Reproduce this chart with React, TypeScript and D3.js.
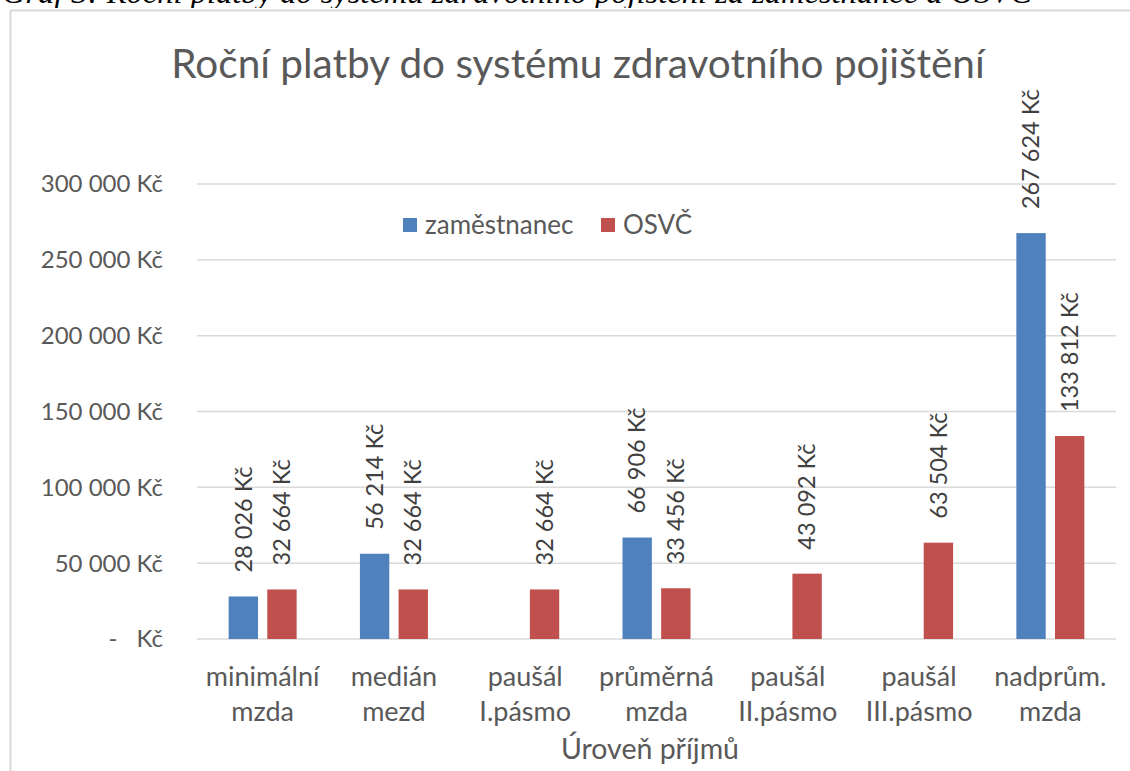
import React from 'react';
import * as d3 from 'd3';

const W = 1130;
const H = 771;

const categories = [
  ['minimální', 'mzda'],
  ['medián', 'mezd'],
  ['paušál', 'I.pásmo'],
  ['průměrná', 'mzda'],
  ['paušál', 'II.pásmo'],
  ['paušál', 'III.pásmo'],
  ['nadprům.', 'mzda'],
];
const series = ['zaměstnanec', 'OSVČ'];
const colors = ['#4F81BD', '#C0504D'];
const zamestnanec = [28026, 56214, null, 66906, null, null, 267624];
const osvc = [32664, 32664, 32664, 33456, 43092, 63504, 133812];
const yTicks = [0, 50000, 100000, 150000, 200000, 250000, 300000];

const FONT = 'Lato, "Open Sans", sans-serif';

const fmt = (v: number) =>
  String(v).replace(/\B(?=(\d{3})+(?!\d))/g, ' ') + ' Kč';

export default function App() {
  const keys = categories.map((c, i) => String(i));
  const x0 = d3.scaleBand().domain(keys).range([197, 1116]).paddingInner(0.482).paddingOuter(0.241);
  const x1 = d3.scaleBand().domain(series).range([0, x0.bandwidth()]).paddingInner(0.24);
  const y = d3.scaleLinear().domain([0, 300000]).range([639, 184]);

  const values = [zamestnanec, osvc];
  const bars: { k: string; s: string; v: number; c: string }[] = [];
  keys.forEach((k, i) => {
    series.forEach((s, j) => {
      const v = values[j][i];
      if (v != null) bars.push({ k, s, v, c: colors[j] });
    });
  });

  return (
    <svg width={W} height={H} style={{ position: 'absolute', left: 0, top: 0, background: '#fff' }}>
      {/* caption above the chart, cut by the crop */}
      <text x={2} y={3} fontFamily='"Liberation Serif", serif' fontStyle="italic" fontSize={32.5} fill="#000">
        Graf 3: Roční platby do systému zdravotního pojištění za zaměstnance a OSVČ
      </text>
      <rect x={0} y={8} width={W} height={H} fill="#fff" />
      <line x1={10.5} x2={10.5} y1={10} y2={H} stroke="#d9d9d9" strokeWidth={2} />
      <line x1={10} x2={W} y1={10.5} y2={10.5} stroke="#d9d9d9" strokeWidth={2} />

      <text x={578} y={78} textAnchor="middle" fontFamily={FONT} fontSize={40.5} fill="#595959">
        Roční platby do systému zdravotního pojištění
      </text>

      {yTicks.map(t => (
        <g key={t}>
          <line x1={197} x2={1116} y1={y(t)} y2={y(t)} stroke="#d9d9d9" strokeWidth={1.5} />
          {t === 0 ? (
            <g fontFamily={FONT} fontSize={24} fill="#595959">
              <text x={113} y={y(t)} dy="0.35em" textAnchor="middle">-</text>
              <text x={163} y={y(t)} dy="0.35em" textAnchor="end">Kč</text>
            </g>
          ) : (
            <text x={163} y={y(t)} dy="0.35em" textAnchor="end" fontFamily={FONT} fontSize={24} fill="#595959">
              {fmt(t)}
            </text>
          )}
        </g>
      ))}

      {bars.map(b => {
        const bx = (x0(b.k) as number) + (x1(b.s) as number);
        const cx = bx + x1.bandwidth() / 2;
        return (
          <g key={b.k + b.s}>
            <rect x={bx} y={y(b.v)} width={x1.bandwidth()} height={y(0) - y(b.v)} fill={b.c} />
            <text
              transform={`translate(${cx},${y(b.v) - 24}) rotate(-90)`}
              dy="0.35em"
              fontFamily={FONT}
              fontSize={23.5}
              fill="#404040"
            >
              {fmt(b.v)}
            </text>
          </g>
        );
      })}

      {categories.map((c, i) => {
        const cx = (x0(String(i)) as number) + x0.bandwidth() / 2;
        return (
          <text key={i} textAnchor="middle" fontFamily={FONT} fontSize={27} fill="#595959">
            <tspan x={cx} y={686}>{c[0]}</tspan>
            <tspan x={cx} y={721}>{c[1]}</tspan>
          </text>
        );
      })}

      <text x={650} y={759} textAnchor="middle" fontFamily={FONT} fontSize={28.5} fill="#595959">
        Úroveň příjmů
      </text>

      {series.map((s, j) => {
        const lx = j === 0 ? 403 : 601;
        return (
          <g key={s}>
            <rect x={lx} y={218} width={14} height={14} fill={colors[j]} />
            <text x={lx + 22} y={225} dy="0.35em" fontFamily={FONT} fontSize={26} fill="#595959">
              {s}
            </text>
          </g>
        );
      })}
    </svg>
  );
}
